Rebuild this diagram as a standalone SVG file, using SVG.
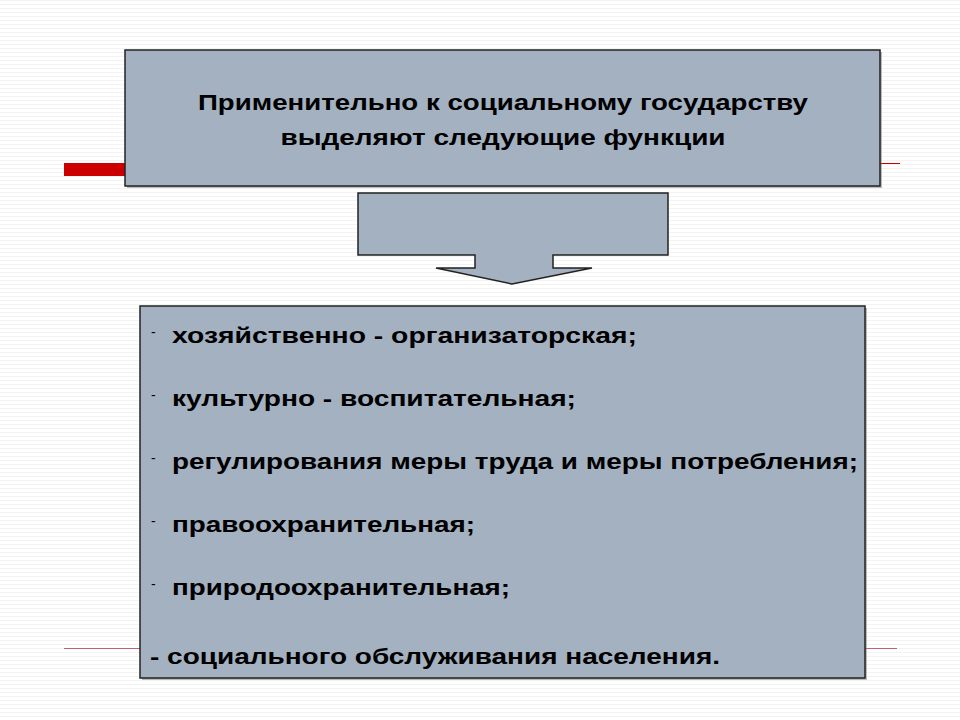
<svg xmlns="http://www.w3.org/2000/svg" width="960" height="720" viewBox="0 0 960 720">
<defs>
<pattern id="bg" width="4" height="4" patternUnits="userSpaceOnUse"><rect width="4" height="4" fill="#ffffff"/><rect width="4" height="1" fill="#f3f3f3"/></pattern>
</defs>
<style>
.box{fill:#A4B1C0;stroke:#222;stroke-width:1.5}
.sh{fill:#777;opacity:0.5}
.t{font-family:"Liberation Sans",Arial,sans-serif;font-weight:bold;font-size:22px;fill:#000}
.d{font-family:"Liberation Sans",Arial,sans-serif;font-size:14px;fill:#000}
</style>
<rect width="960" height="720" fill="url(#bg)"/>
<rect x="64" y="163" width="70" height="13" fill="#CC0000"/>
<line x1="870" y1="163.5" x2="900" y2="163.5" stroke="#CC0000" stroke-width="1"/>
<line x1="64" y1="648.5" x2="150" y2="648.5" stroke="#C06070" stroke-width="1"/>
<line x1="860" y1="648.5" x2="897" y2="648.5" stroke="#C06070" stroke-width="1"/>
<g id="header">
<rect class="sh" x="127" y="52" width="755" height="136"/>
<rect class="box" x="125" y="50" width="755" height="136"/>
<text class="t" x="503" y="110" text-anchor="middle" textLength="610" lengthAdjust="spacingAndGlyphs">Применительно к социальному государству</text>
<text class="t" x="503" y="145" text-anchor="middle" textLength="445" lengthAdjust="spacingAndGlyphs">выделяют следующие функции</text>
</g>
<g id="connectors">
<path class="box" d="M358,193 H668 V255 H553 V268 H592 L512,284 L436,268 H475 V255 H358 Z"/>
</g>
<g id="list">
<rect class="sh" x="142" y="308" width="725" height="372"/>
<rect class="box" x="140" y="306" width="725" height="372"/>
<text class="d" x="151" y="337">-</text>
<text class="t" x="172" y="343" textLength="465" lengthAdjust="spacingAndGlyphs">хозяйственно - организаторская;</text>
<text class="d" x="151" y="400">-</text>
<text class="t" x="172" y="406" textLength="404" lengthAdjust="spacingAndGlyphs">культурно - воспитательная;</text>
<text class="d" x="151" y="463">-</text>
<text class="t" x="172" y="469" textLength="686" lengthAdjust="spacingAndGlyphs">регулирования меры труда и меры потребления;</text>
<text class="d" x="151" y="526">-</text>
<text class="t" x="172" y="532" textLength="303" lengthAdjust="spacingAndGlyphs">правоохранительная;</text>
<text class="d" x="151" y="589">-</text>
<text class="t" x="172" y="595" textLength="338" lengthAdjust="spacingAndGlyphs">природоохранительная;</text>
<text class="t" x="150" y="664" textLength="570" lengthAdjust="spacingAndGlyphs">- социального обслуживания населения.</text>
</g>
</svg>
